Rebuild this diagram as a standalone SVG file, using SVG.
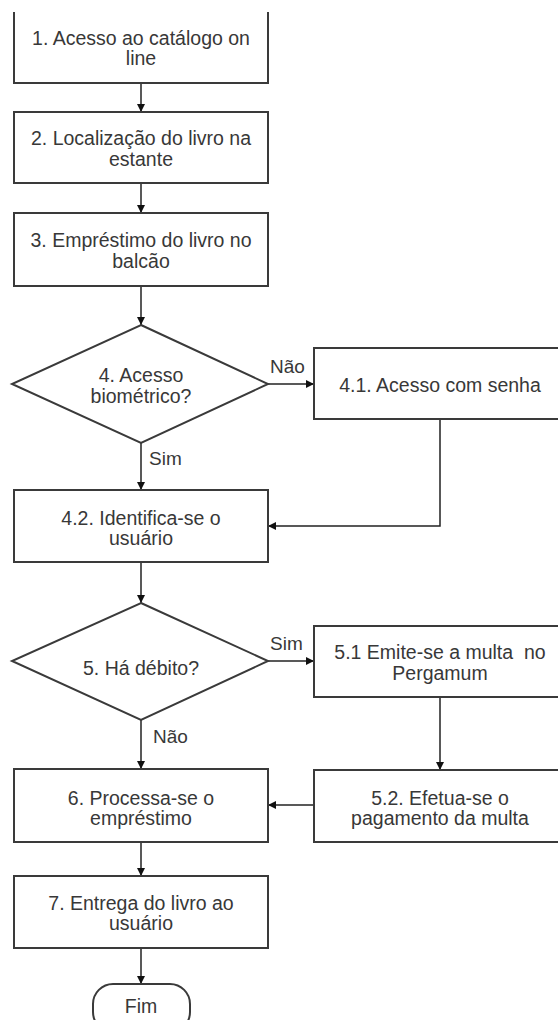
<svg xmlns="http://www.w3.org/2000/svg" width="558" height="1020" viewBox="0 0 558 1020">
<defs>
<marker id="arr" viewBox="0 0 10 10" refX="10" refY="5" markerUnits="userSpaceOnUse" markerWidth="8" markerHeight="8" orient="auto">
<path d="M0,0 L10,5 L0,10 z" fill="#111"/>
</marker>
<style>
.box{fill:#fff;stroke:#3a3a3a;stroke-width:2}
.t{font-family:"Liberation Sans",Arial,sans-serif;font-size:19.5px;fill:#383838;text-anchor:middle}
.lbl{font-family:"Liberation Sans",Arial,sans-serif;font-size:19px;fill:#383838}
.c{fill:none;stroke:#222;stroke-width:1.5;marker-end:url(#arr)}
</style>
</defs>
<rect width="558" height="1020" fill="#fff"/>
<g id="connectors">
<path class="c" d="M141,83 V112"/>
<path class="c" d="M141,183 V213"/>
<path class="c" d="M141,286 V325"/>
<path class="c" d="M268,384 H314"/>
<path class="c" d="M141,443 V490"/>
<path class="c" d="M440,419 V526 H268"/>
<path class="c" d="M141,562 V603"/>
<path class="c" d="M268,661 H314"/>
<path class="c" d="M141,720 V769"/>
<path class="c" d="M440,697 V770"/>
<path class="c" d="M314,805 H268"/>
<path class="c" d="M141,842 V876"/>
<path class="c" d="M141,948 V984"/>
</g>
<g id="labels">
<text class="lbl" x="270" y="373">Não</text>
<text class="lbl" x="149" y="465">Sim</text>
<text class="lbl" x="270" y="650">Sim</text>
<text class="lbl" x="153" y="743">Não</text>
</g>
<g id="n1">
<path class="box" d="M14,12 V83 H268 V12"/>
<text class="t" x="141" y="45">1. Acesso ao catálogo on</text>
<text class="t" x="141" y="65">line</text>
</g>
<g id="n2">
<rect class="box" x="14" y="112" width="254" height="71"/>
<text class="t" x="141" y="145">2. Localização do livro na</text>
<text class="t" x="141" y="166">estante</text>
</g>
<g id="n3">
<rect class="box" x="14" y="213" width="254" height="73"/>
<text class="t" x="141" y="247">3. Empréstimo do livro no</text>
<text class="t" x="141" y="268">balcão</text>
</g>
<g id="n4">
<polygon class="box" points="141,325 268,384 141,443 12,384"/>
<text class="t" x="141" y="382">4. Acesso</text>
<text class="t" x="141" y="403">biométrico?</text>
</g>
<g id="n41">
<rect class="box" x="314" y="348" width="254" height="71"/>
<text class="t" x="440" y="392">4.1. Acesso com senha</text>
</g>
<g id="n42">
<rect class="box" x="14" y="490" width="254" height="72"/>
<text class="t" x="141" y="525">4.2. Identifica-se o</text>
<text class="t" x="141" y="545">usuário</text>
</g>
<g id="n5">
<polygon class="box" points="141,603 268,661 141,720 12,661"/>
<text class="t" x="141" y="675">5. Há débito?</text>
</g>
<g id="n51">
<rect class="box" x="314" y="626" width="254" height="71"/>
<text class="t" x="440" y="659">5.1 Emite-se a multa&#160; no</text>
<text class="t" x="440" y="680">Pergamum</text>
</g>
<g id="n52">
<rect class="box" x="314" y="770" width="254" height="72"/>
<text class="t" x="440" y="805">5.2. Efetua-se o</text>
<text class="t" x="440" y="825">pagamento da multa</text>
</g>
<g id="n6">
<rect class="box" x="14" y="769" width="254" height="73"/>
<text class="t" x="141" y="805">6. Processa-se o</text>
<text class="t" x="141" y="825">empréstimo</text>
</g>
<g id="n7">
<rect class="box" x="14" y="876" width="254" height="72"/>
<text class="t" x="141" y="910">7. Entrega do livro ao</text>
<text class="t" x="141" y="930">usuário</text>
</g>
<g id="fim">
<rect class="box" x="93" y="984" width="97" height="48" rx="20" ry="20"/>
<text class="t" x="141" y="1013">Fim</text>
</g>
</svg>
